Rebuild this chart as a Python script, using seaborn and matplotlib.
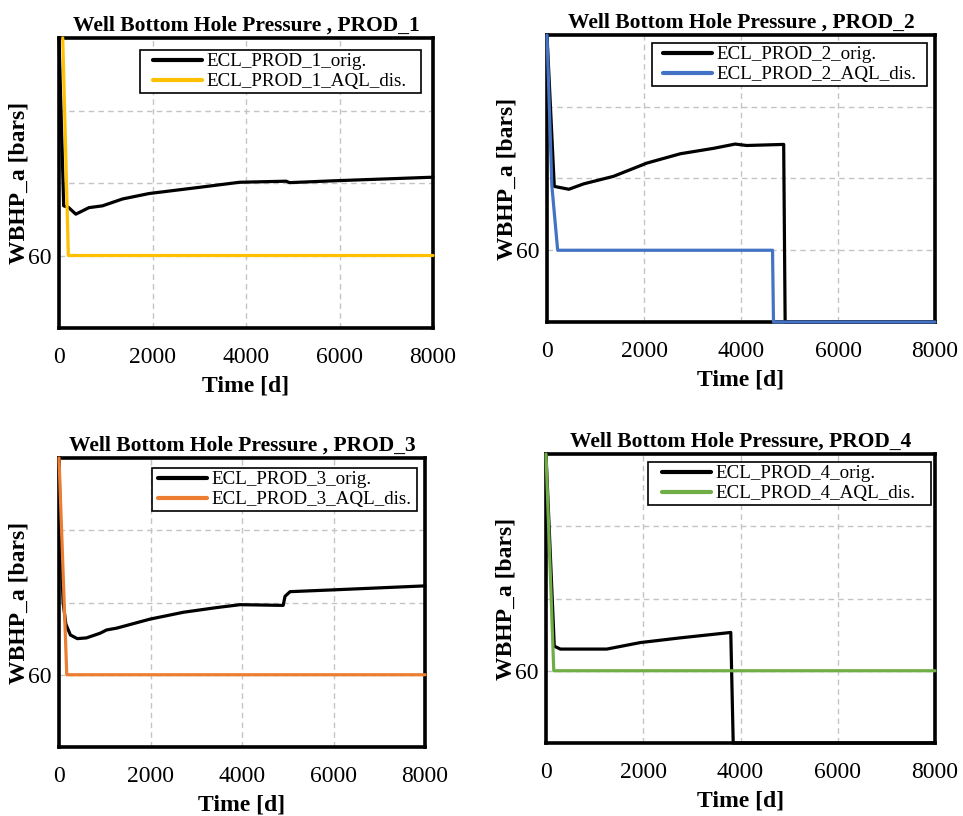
import matplotlib
matplotlib.use("Agg")
import matplotlib.pyplot as plt
from matplotlib.legend_handler import HandlerLine2D
import numpy as np
import pandas as pd
import seaborn as sns

# ---- Well bottom hole pressure, time series per producer ----
wells = ["PROD_1", "PROD_2", "PROD_3", "PROD_4"]
titles = [
    "Well Bottom Hole Pressure , PROD_1",
    "Well Bottom Hole Pressure , PROD_2",
    "Well Bottom Hole Pressure , PROD_3",
    "Well Bottom Hole Pressure, PROD_4",
]
aql_colors = ["#FFC000", "#4472C4", "#ED7D31", "#70AD47"]

# Original Eclipse runs
orig_t_1 = [0, 100, 200, 360, 640, 930, 1360, 1930, 3000, 3860, 4860, 4930, 5860, 8000]
orig_p_1 = [120, 73.7, 73.3, 71.4, 73.2, 73.7, 75.6, 77.1, 78.8, 80.2, 80.5, 80.1, 80.6, 81.6]

orig_t_2 = [0, 150, 450, 755, 1370, 2060, 2750, 3430, 3880, 4120, 4880, 4910, 8000]
orig_p_2 = [120, 77.8, 77.0, 78.5, 80.6, 84.3, 86.9, 88.4, 89.6, 89.2, 89.5, 40, 40]

orig_t_3 = [0, 30, 90, 150, 250, 400, 600, 900, 1040, 1260, 1990, 2720, 3450, 3960,
            4900, 4940, 5050, 6000, 8000]
orig_p_3 = [120, 100, 80, 74, 71, 70.0, 70.2, 71.5, 72.4, 72.9, 75.4, 77.3, 78.6, 79.4,
            79.2, 81.7, 83.0, 83.5, 84.6]

orig_t_4 = [0, 170, 295, 1250, 1940, 2760, 3800, 3850, 8000]
orig_p_4 = [120, 66.8, 66.0, 66.0, 67.8, 69.1, 70.6, 40, 40]

# AQL discretised runs
aql_t_1 = [80, 200, 8000]
aql_p_1 = [120, 60, 60]

aql_t_2 = [0, 100, 220, 4650, 4670, 8000]
aql_p_2 = [120, 78, 60, 60, 40, 40]

aql_t_3 = [0, 170, 8000]
aql_p_3 = [120, 60, 60]

aql_t_4 = [0, 160, 8000]
aql_p_4 = [120, 60, 60]

orig_t = [orig_t_1, orig_t_2, orig_t_3, orig_t_4]
orig_p = [orig_p_1, orig_p_2, orig_p_3, orig_p_4]
aql_t = [aql_t_1, aql_t_2, aql_t_3, aql_t_4]
aql_p = [aql_p_1, aql_p_2, aql_p_3, aql_p_4]

x_ticks = [0, 2000, 4000, 6000, 8000]
y_ticks = [40, 60, 80, 100, 120]
y_labelled = [60]

sns.set_theme(style="white")
plt.rcParams["font.family"] = ["Liberation Serif", "DejaVu Serif"]
plt.rcParams["text.color"] = "black"
plt.rcParams["axes.labelcolor"] = "black"
plt.rcParams["xtick.color"] = "black"
plt.rcParams["ytick.color"] = "black"

fig = plt.figure(figsize=(9.63, 8.16), dpi=100)
W, H = 963, 816
# axes boxes in pixels: left, top, right, bottom
boxes = [
    (59, 38, 433, 328),
    (547, 35, 935, 322),
    (59, 458, 425, 747),
    (546, 454, 935, 743),
]
# legend boxes in pixels: left, right, top, and inner left padding of the handle
legend_boxes = [
    (140, 421, 50, 0.55),
    (652, 927, 43, 0.45),
    (152, 417, 468, 0.19),
    (648, 931, 462, 0.61),
]

for i, well in enumerate(wells):
    l, t, r, b = boxes[i]
    ax = fig.add_axes([l / W, 1 - b / H, (r - l) / W, (b - t) / H])
    name_o = f"ECL_{well}_orig."
    name_a = f"ECL_{well}_AQL_dis."
    df = pd.concat([
        pd.DataFrame({"Time": orig_t[i], "WBHP": orig_p[i], "Case": name_o}),
        pd.DataFrame({"Time": aql_t[i], "WBHP": aql_p[i], "Case": name_a}),
    ], ignore_index=True)
    sns.lineplot(data=df, x="Time", y="WBHP", hue="Case",
                 palette={name_o: "black", name_a: aql_colors[i]},
                 estimator=None, sort=False, linewidth=2.3, ax=ax)
    for ln in ax.lines:
        ln.set_clip_on(False)
        ln.set_zorder(3)

    ax.set_xlim(0, 8000)
    ax.set_ylim(40, 120)
    ax.set_xticks(x_ticks)
    ax.set_yticks(y_ticks)
    ax.set_yticklabels([str(v) if v in y_labelled else "" for v in y_ticks])
    ax.tick_params(axis="both", direction="in", length=4, width=1.5,
                   labelsize=17, colors="black")
    ax.tick_params(axis="x", pad=14)
    ax.tick_params(axis="y", pad=5.5)
    ax.grid(True, color="#c4c4c4", linestyle=(0, (4, 3)), linewidth=1.0)
    for s in ax.spines.values():
        s.set_linewidth(2.6)
        s.set_color("black")
        s.set_zorder(2.5)

    ax.set_title(titles[i], fontsize=15.5, fontweight="bold", pad=5, color="black")
    ax.set_xlabel("Time [d]", fontsize=17, fontweight="bold", labelpad=5)
    ax.set_ylabel("WBHP_a [bars]", fontsize=17, fontweight="bold", labelpad=-1.5)

    # legend box placed in axes coordinates, stretched to its full width
    ll, lr, lt, xpad = legend_boxes[i]
    x0 = (ll - l) / (r - l)
    w = (lr - ll) / (r - l)
    y_top = 1 - (lt - t) / (b - t)
    leg = ax.legend(loc="upper left", bbox_to_anchor=(x0, y_top - 0.001, w, 0.001),
                    mode="expand", borderaxespad=0, fontsize=13.7, frameon=True,
                    fancybox=False, handlelength=2.55 + xpad, handletextpad=0.23,
                    labelspacing=0.15, borderpad=0.15,
                    handler_map={matplotlib.lines.Line2D: HandlerLine2D(xpad=xpad)})
    leg.get_frame().set_edgecolor("black")
    leg.get_frame().set_linewidth(1.2)
    leg.get_frame().set_facecolor("white")
    leg.get_frame().set_alpha(1)
    for txt in leg.get_texts():
        txt.set_color("black")
    for h in leg.get_lines():
        h.set_linewidth(3)

fig.savefig("out.png", dpi=100, facecolor="white")
